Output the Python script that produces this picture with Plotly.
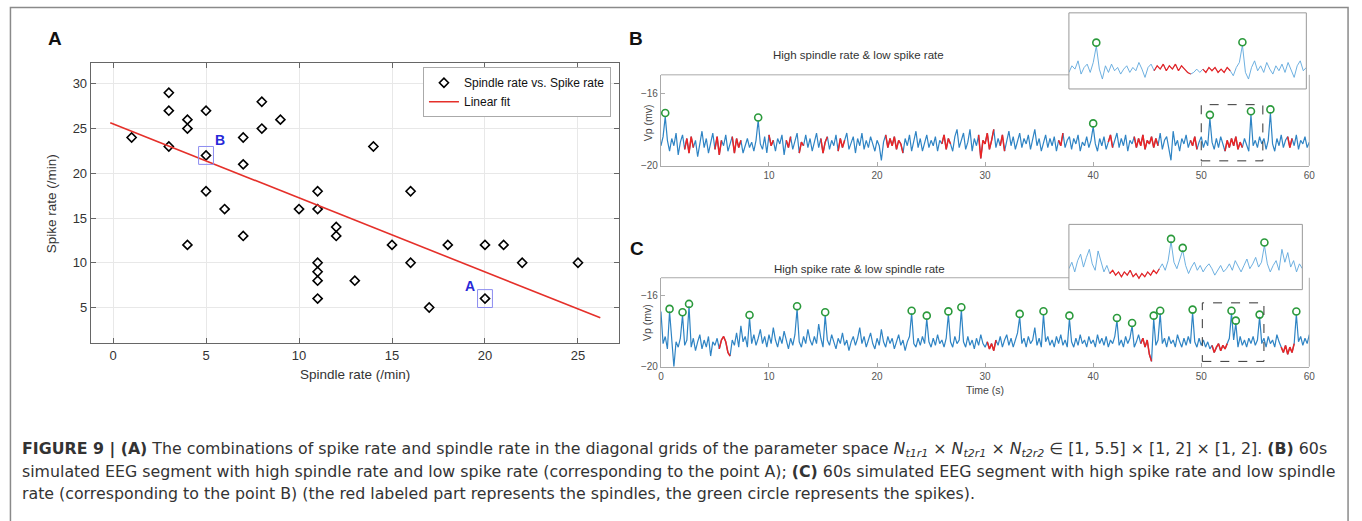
import plotly.graph_objects as go

W, H = 1362, 521
FONT = "Liberation Sans, Arial, sans-serif"
CAPFONT = "DejaVu Sans, Liberation Sans, sans-serif"

# ---------------- Panel A data ----------------
spindle_rate = [1, 3, 3, 3, 4, 4, 4, 5, 5, 5, 6, 7, 7, 7, 8, 8, 9, 10, 11, 11, 11, 11, 11, 11,
                12, 12, 13, 14, 15, 16, 16, 17, 18, 20, 20, 21, 22, 25]
spike_rate = [24, 29, 27, 23, 26, 25, 12, 27, 22, 18, 16, 24, 21, 13, 28, 25, 26, 16, 18, 16, 10, 9, 8, 6,
              14, 13, 8, 23, 12, 18, 10, 5, 12, 12, 6, 12, 10, 10]
fit_x = [-0.15, 26.2]
fit_y = [25.65, 3.85]
point_A = [20, 6]
point_B = [5, 22]
a_xticks = [0, 5, 10, 15, 20, 25]
a_yticks = [5, 10, 15, 20, 25, 30]

# ---------------- Panel B data (60 s, 0.2 s sampling) ----------------
b_t0, b_dt = 0.0, 0.2
b_vp = [
    -18.9, -18.4, -17.3, -18.6, -19.2, -18.5, -18.9, -18.2, -19.4, -18.7,
    -18.3, -19.1, -18.5, -19.3, -18.4, -19.0, -18.6, -19.5, -18.8, -18.1,
    -19.0, -18.5, -19.3, -18.7, -18.2, -19.1, -18.4, -19.4, -18.6, -18.9,
    -18.3, -19.2, -18.8, -18.4, -19.3, -18.5, -19.0, -18.6, -19.3, -18.9,
    -18.5, -19.0, -18.7, -19.2, -18.6, -17.5, -18.8, -19.1, -18.4, -19.3,
    -18.3, -18.9, -18.6, -19.2, -18.5, -18.8, -18.3, -19.4, -18.6, -19.0,
    -18.4, -19.1, -18.6, -18.2, -19.3, -18.7, -18.9, -18.3, -19.0, -18.5,
    -19.2, -18.6, -18.2, -19.0, -18.5, -19.3, -18.7, -18.4, -19.1, -18.6,
    -18.9, -18.3, -19.2, -18.5, -19.0, -18.6, -18.2, -19.1, -18.7, -18.4,
    -19.3, -18.5, -18.9, -18.2, -19.1, -18.6, -19.0, -18.4, -18.8, -19.2,
    -18.6, -18.9, -19.7, -18.7, -18.3, -19.0, -18.5, -18.9, -18.4, -19.1,
    -18.6, -18.8, -19.3, -18.5, -18.9, -18.3, -19.2, -18.6, -18.1, -19.0,
    -18.5, -19.2, -18.7, -18.3, -19.0, -18.6, -18.9, -18.4, -19.2, -18.6,
    -18.8, -18.3, -19.1, -18.5, -18.8, -19.2, -18.4, -18.0, -19.0, -18.6,
    -18.2, -19.1, -18.7, -18.0, -19.2, -18.5, -18.9, -18.3, -19.6, -18.6,
    -18.8, -18.2, -19.1, -18.6, -18.0, -19.0, -18.5, -18.9, -18.3, -19.2,
    -18.6, -18.1, -18.9, -18.4, -19.1, -18.7, -18.2, -19.0, -18.5, -18.8,
    -18.3, -19.1, -18.6, -18.0, -18.9, -18.5, -19.2, -18.7, -18.3, -19.0,
    -18.5, -18.9, -18.4, -19.2, -18.6, -18.9, -18.2, -19.0, -18.6, -18.4,
    -19.1, -18.5, -18.8, -18.3, -19.2, -18.7, -18.9, -18.4, -19.0, -18.6,
    -17.85, -18.8, -19.2, -18.5, -18.9, -18.4, -19.1, -18.7, -18.3, -19.0,
    -18.6, -18.2, -19.0, -18.5, -18.9, -18.3, -19.2, -18.6, -18.8, -18.4,
    -19.0, -18.5, -18.9, -18.3, -19.1, -18.6, -18.8, -18.4, -19.0, -18.5,
    -18.9, -18.2, -19.1, -18.6, -18.4, -19.0, -19.7, -18.1, -18.9, -18.6,
    -19.2, -18.5, -18.8, -18.3, -19.0, -18.6, -18.9, -18.4, -19.1, -18.7,
    -18.4, -19.0, -18.6, -18.9, -17.4, -18.7, -19.1, -18.5, -19.0, -18.4,
    -18.8, -19.2, -18.6, -19.0, -18.5, -18.9, -18.4, -19.1, -18.7, -19.0,
    -18.5, -18.8, -19.2, -17.2, -18.9, -18.6, -19.0, -18.4, -18.8, -18.5,
    -19.1, -18.6, -17.1, -18.8, -19.2, -18.5, -18.9, -18.3, -19.0, -18.6,
    -18.4, -19.0, -18.5, -18.9, -18.3, -19.1, -18.6, -18.8, -18.4, -19.0, -18.7,
]
b_spindles = [[2.2, 3.1], [5.0, 5.75], [6.5, 7.4], [10.0, 10.5], [11.6, 12.0], [12.7, 13.3],
              [14.8, 15.4], [16.4, 17.1], [20.8, 22.4], [25.9, 26.8], [29.3, 30.9], [31.4, 31.8],
              [36.7, 37.2], [41.4, 41.9], [43.8, 46.1], [49.0, 49.6], [52.2, 53.9], [57.9, 58.5]]
b_spike_t = [0.4, 9.0, 40.0, 50.8, 54.6, 56.4]
b_spike_v = [-17.1, -17.35, -17.67, -17.2, -17.0, -16.9]
b_zoom = [50.0, 55.7, -19.73, -16.64]

# inset of B (50 s .. 56.24 s, 0.08 s sampling)
bi_t0, bi_dt = 50.0, 0.08
bi_vp = [
    -18.9, -18.5, -18.7, -18.2, -19.0, -18.6, -18.4, -18.9, -18.3, -17.3,
    -18.7, -19.3, -18.5, -18.9, -18.4, -18.8, -18.6, -19.0, -18.7, -18.5,
    -18.9, -18.6, -18.8, -18.3, -18.7, -19.2, -18.6, -18.4, -18.8, -18.5,
    -18.7, -18.4, -18.8, -18.5, -18.7, -18.4, -18.8, -18.5, -18.7, -18.9,
    -19.0, -18.9, -18.7, -18.9, -18.7, -18.9, -18.6, -18.8, -18.6, -18.9,
    -18.7, -18.9, -18.6, -18.8, -19.1, -18.6, -18.3, -17.25, -18.9, -19.3,
    -18.6, -18.2, -18.8, -18.5, -18.9, -18.3, -18.7, -19.0, -18.5, -18.8,
    -18.4, -18.9, -18.3, -18.7, -19.2, -18.5, -18.2, -18.8, -18.6,
]
bi_spindles = [[52.2, 53.2], [53.5, 54.3]]
bi_spike_t = [50.72, 54.56]
bi_spike_v = [-17.1, -17.08]

# ---------------- Panel C data ----------------
c_t0, c_dt = 0.0, 0.2
c_vp = [
    -16.9, -18.7, -18.3, -19.0, -16.9, -18.5, -20.0, -18.6, -18.9, -18.4,
    -17.1, -18.8, -18.5, -16.6, -18.9, -18.4, -19.1, -18.6, -18.2, -19.0,
    -18.5, -18.9, -18.3, -19.4, -18.6, -18.8, -18.4, -19.0, -18.5, -18.3,
    -18.6, -19.2, -19.4, -18.5, -18.8, -18.1, -18.9, -17.7, -18.6, -18.3,
    -18.9, -17.25, -18.7, -18.2, -18.8, -18.4, -17.9, -18.7, -18.3, -18.9,
    -18.2, -18.7, -17.8, -18.5, -18.9, -18.3, -18.7, -18.0, -18.6, -19.0,
    -18.4, -18.8, -18.2, -16.75, -18.6, -18.9, -18.3, -18.7, -17.9, -18.5,
    -18.8, -18.3, -18.7, -17.6, -18.4, -18.9, -17.1, -18.5, -18.8, -18.2,
    -18.6, -19.0, -18.4, -18.7, -18.1, -18.8, -18.5, -19.1, -18.6, -18.3,
    -18.8, -18.4, -17.8, -18.7, -18.3, -18.9, -18.5, -18.1, -18.7, -19.0,
    -18.4, -18.8, -17.9, -18.6, -18.9, -18.3, -18.7, -18.4, -19.0, -18.6,
    -18.2, -18.8, -18.5, -19.1, -18.6, -18.3, -17.0, -18.7, -18.9, -18.4,
    -18.8, -18.3, -18.7, -17.3, -18.6, -18.9, -18.4, -18.8, -18.2, -18.7,
    -18.5, -18.9, -18.4, -17.05, -18.6, -18.9, -18.3, -18.7, -18.5, -16.8,
    -18.6, -18.9, -18.3, -18.8, -18.5, -19.0, -18.4, -18.8, -18.2, -18.7,
    -18.9, -18.6, -19.0, -18.7, -19.1, -18.5, -18.8, -18.3, -18.9, -18.5,
    -18.2, -18.8, -18.4, -18.9, -18.5, -18.1, -17.2, -18.7, -18.4, -18.9,
    -18.3, -18.7, -18.5, -17.8, -18.8, -18.4, -18.9, -17.05, -18.6, -18.3,
    -18.8, -18.5, -18.9, -18.3, -18.7, -18.2, -18.8, -18.5, -18.9, -17.3,
    -18.6, -18.9, -18.4, -18.8, -18.2, -18.7, -18.5, -18.9, -18.3, -18.7,
    -18.5, -18.9, -18.2, -18.7, -18.4, -18.8, -18.3, -18.9, -18.5, -18.7,
    -18.3, -17.4, -18.8, -18.5, -18.9, -18.3, -18.7, -18.4, -17.7, -18.9,
    -18.6, -18.2, -18.7, -18.4, -18.9, -18.5, -19.3, -19.7, -17.3, -18.8,
    -18.5, -17.0, -18.7, -18.4, -18.9, -18.3, -18.7, -18.5, -18.9, -18.2,
    -18.6, -18.9, -18.4, -18.8, -18.3, -18.7, -16.95, -18.6, -18.9, -18.4,
    -18.8, -18.5, -18.9, -18.6, -19.0, -18.8, -19.2, -18.9, -18.7, -19.1,
    -18.8, -19.0, -18.7, -18.4, -17.0, -18.5, -17.55, -18.9, -18.3, -18.8,
    -18.5, -18.9, -18.4, -18.7, -18.3, -18.8, -18.5, -17.2, -18.7, -18.4,
    -18.9, -18.3, -18.7, -18.5, -18.9, -18.2, -18.6, -18.9, -19.2, -18.8,
    -19.3, -18.9, -19.2, -18.7, -17.05, -18.6, -18.3, -18.8, -18.4, -18.7, -18.2,
]
c_spindles = [[5.4, 6.4], [30.2, 31.0], [44.4, 45.4], [51.0, 52.4], [57.4, 58.6]]
c_spike_t = [0.8, 2.0, 2.6, 8.2, 12.6, 15.2, 23.2, 24.6, 26.6, 27.8, 33.2, 35.4, 37.8,
             42.2, 43.6, 45.6, 46.2, 49.2, 52.8, 53.2, 55.4, 58.8]
c_spike_v = [-16.75, -16.94, -16.47, -17.09, -16.6, -16.94, -16.85, -17.13, -16.89, -16.66,
             -17.03, -16.88, -17.13, -17.26, -17.54, -17.13, -16.85, -16.79, -16.85, -17.41,
             -17.07, -16.9]
c_zoom = [50.1, 55.8, -19.7, -16.41]

# inset of C (50 s .. 56.4 s, 0.08 s sampling)
ci_t0, ci_dt = 50.0, 0.08
ci_vp = [
    -18.7, -18.3, -18.9, -18.2, -17.8, -18.6, -18.0, -17.5, -18.4, -18.8,
    -17.6, -18.3, -18.9, -18.5, -19.0, -18.8, -19.1, -18.9, -19.2, -18.9,
    -19.1, -18.8, -19.2, -19.0, -19.3, -19.0, -19.2, -18.9, -19.1, -18.8,
    -19.0, -18.7, -18.4, -18.8, -18.2, -17.0, -18.3, -18.7, -18.1, -17.55,
    -18.5, -19.0, -18.6, -18.3, -18.8, -18.5, -18.9, -18.6, -18.4, -18.7,
    -19.1, -18.8, -18.5, -18.9, -18.7, -18.4, -18.8, -18.2, -18.6, -18.9,
    -18.5, -18.1, -18.7, -18.4, -18.0, -18.6, -18.3, -17.25, -18.4, -18.9,
    -18.5, -18.2, -18.8, -17.5, -18.3, -17.7, -18.6, -18.2, -18.9, -18.4, -18.7,
]
ci_spindles = [[51.1, 52.5]]
ci_spike_t = [52.8, 53.12, 55.36]
ci_spike_v = [-16.85, -17.41, -17.07]

# ---------------- helpers ----------------
def px(x):
    return x / W


def py(y):
    return 1 - y / H


def times(t0, dt, n):
    return [round(t0 + i * dt, 3) for i in range(n)]


def spindle_only(t, v, ints):
    return [val if any(lo - 1e-9 <= tt <= hi + 1e-9 for lo, hi in ints) else None
            for tt, val in zip(t, v)]


BLUE = "#2f84c4"
BLUE_LIGHT = "#5ea7dc"
RED = "#ec2424"
GREEN = "#2b9a3c"

fig = go.Figure()

# Panel A
fig.add_trace(go.Scatter(x=spindle_rate, y=spike_rate, mode="markers", name="Spindle rate vs. Spike rate",
                         marker=dict(symbol="diamond-open", size=7, color="black", line=dict(width=1.6)),
                         xaxis="x", yaxis="y"))
fig.add_trace(go.Scatter(x=fit_x, y=fit_y, mode="lines", name="Linear fit",
                         line=dict(color="#e5302a", width=1.6), xaxis="x", yaxis="y"))


def add_eeg(t, v, ints, st, sv, xa, ya, blue, lw):
    fig.add_trace(go.Scatter(x=t, y=v, mode="lines", line=dict(color=blue, width=lw),
                             showlegend=False, xaxis=xa, yaxis=ya))
    fig.add_trace(go.Scatter(x=t, y=spindle_only(t, v, ints), mode="lines",
                             line=dict(color=RED, width=lw + 0.3), connectgaps=False,
                             showlegend=False, xaxis=xa, yaxis=ya))
    fig.add_trace(go.Scatter(x=st, y=sv, mode="markers",
                             marker=dict(symbol="circle-open", size=7, color=GREEN, line=dict(width=1.6)),
                             showlegend=False, xaxis=xa, yaxis=ya))


add_eeg(times(b_t0, b_dt, len(b_vp)), b_vp, b_spindles, b_spike_t, b_spike_v, "x2", "y2", BLUE, 1.2)
add_eeg(times(c_t0, c_dt, len(c_vp)), c_vp, c_spindles, c_spike_t, c_spike_v, "x3", "y3", BLUE, 1.2)
add_eeg(times(bi_t0, bi_dt, len(bi_vp)), bi_vp, bi_spindles, bi_spike_t, bi_spike_v, "x4", "y4", BLUE_LIGHT, 0.9)
add_eeg(times(ci_t0, ci_dt, len(ci_vp)), ci_vp, ci_spindles, ci_spike_t, ci_spike_v, "x5", "y5", BLUE_LIGHT, 0.9)

axA = dict(showline=True, linecolor="#666", linewidth=1, mirror="ticks", ticks="inside", ticklen=5,
           tickcolor="#666", showgrid=True, gridcolor="#e8e8e8", zeroline=False,
           tickfont=dict(family=FONT, size=13, color="#333"))
axE = dict(showline=True, linecolor="#aaa", linewidth=1, mirror=False, ticks="inside", ticklen=4,
           tickcolor="#aaa", showgrid=False, zeroline=False,
           tickfont=dict(family=FONT, size=10, color="#555"))
hidden = dict(visible=False, showgrid=False, zeroline=False)

layout = dict(
    width=W, height=H, autosize=False, margin=dict(l=0, r=0, t=0, b=0),
    paper_bgcolor="white", plot_bgcolor="white",
    xaxis=dict(axA, domain=[px(88.3), px(620)], range=[-1.2, 27.2], tickvals=a_xticks, anchor="y"),
    yaxis=dict(axA, domain=[py(347.3), py(64)], range=[1, 32.3], tickvals=a_yticks, anchor="x"),
    xaxis2=dict(axE, domain=[px(662.3), px(1315)], range=[0, 60], tickvals=[10, 20, 30, 40, 50, 60], anchor="y2"),
    yaxis2=dict(axE, domain=[py(167.7), py(75.7)], range=[-20, -15], tickvals=[-20, -16], anchor="x2"),
    xaxis3=dict(axE, domain=[px(662.3), px(1315)], range=[0, 60], tickvals=[0, 10, 20, 30, 40, 50, 60], anchor="y3"),
    yaxis3=dict(axE, domain=[py(371), py(281)], range=[-20, -15], tickvals=[-20, -16], anchor="x3"),
    xaxis4=dict(hidden, domain=[px(1073), px(1312)], range=[50, 56.24], anchor="y4"),
    yaxis4=dict(hidden, domain=[py(90), py(13)], range=[-19.9, -15.3], anchor="x4"),
    xaxis5=dict(hidden, domain=[px(1073), px(1308)], range=[50, 56.4], anchor="y5"),
    yaxis5=dict(hidden, domain=[py(293), py(227)], range=[-20.0, -15.95], anchor="x5"),
    legend=dict(x=px(612), y=py(68), xanchor="right", yanchor="top", bgcolor="white",
                bordercolor="#aaa", borderwidth=1, font=dict(family=FONT, size=12, color="#111"),
                itemwidth=30, tracegroupgap=0),
    showlegend=True,
)
fig.update_layout(**layout)

shapes = []
# outer frame
shapes.append(dict(type="rect", xref="paper", yref="paper", x0=px(7.5), x1=px(1354), y0=-0.1, y1=py(7.5),
                   line=dict(color="#8a8a8a", width=1.5)))
# A highlighted points
for p in (point_A, point_B):
    shapes.append(dict(type="rect", xref="x", yref="y", x0=p[0] - 0.4, x1=p[0] + 0.4, y0=p[1] - 1.0, y1=p[1] + 1.0,
                       line=dict(color="#8c8cf0", width=1)))
# B / C main borders (top & right) and inset frames
for top, bot, itop, ibot, iright in ((75.7, 167.7, 13, 90, 1312), (281, 371, 227, 293, 1308)):
    shapes.append(dict(type="line", xref="paper", yref="paper", x0=px(662.3), x1=px(1073), y0=py(top), y1=py(top),
                       line=dict(color="#aaa", width=1)))
    shapes.append(dict(type="line", xref="paper", yref="paper", x0=px(1315), x1=px(1315), y0=py(top), y1=py(bot),
                       line=dict(color="#aaa", width=1)))
    shapes.append(dict(type="rect", xref="paper", yref="paper", x0=px(1073), x1=px(iright), y0=py(ibot), y1=py(itop),
                       line=dict(color="#999", width=1), fillcolor="rgba(0,0,0,0)"))
# dashed zoom windows
for z, xa, ya in ((b_zoom, "x2", "y2"), (c_zoom, "x3", "y3")):
    shapes.append(dict(type="rect", xref=xa, yref=ya, x0=z[0], x1=z[1], y0=z[2], y1=z[3],
                       line=dict(color="#333", width=1, dash="dash")))
fig.update_layout(shapes=shapes)

ann = []


def note(text, x, y, size, color="#222", bold=False, angle=0, xanchor="center", fam=FONT):
    t = f"<b>{text}</b>" if bold else text
    ann.append(dict(text=t, x=px(x), y=py(y), xref="paper", yref="paper", showarrow=False,
                    xanchor=xanchor, yanchor="middle", textangle=angle,
                    font=dict(family=fam, size=size, color=color)))


note("A", 52, 39, 19, "#111", bold=True)
note("B", 637, 39, 19, "#111", bold=True)
note("C", 638, 251, 19, "#111", bold=True)
note("Spike rate (/min)", 49, 206, 13.5, "#333", angle=-90)
note("Spindle rate (/min)", 354, 379, 13.5, "#333")
note("High spindle rate &amp; low spike rate", 861, 56, 11.5, "#333")
note("High spike rate &amp; low spindle rate", 862, 272.5, 11.5, "#333")
note("Vp (mv)", 649, 124, 10.5, "#444", angle=-90)
note("Vp (mv)", 649, 326, 10.5, "#444", angle=-90)
note("Time (s)", 989, 395, 10.5, "#444")

# blue point labels in panel A (data coordinates)
ann.append(dict(text="<b>B</b>", x=point_B[0] + 0.75, y=point_B[1] + 1.75, xref="x", yref="y", showarrow=False,
                font=dict(family=FONT, size=14, color="#2828d8")))
ann.append(dict(text="<b>A</b>", x=point_A[0] - 0.8, y=point_A[1] + 1.35, xref="x", yref="y", showarrow=False,
                font=dict(family=FONT, size=14, color="#2828d8")))

cap1 = ("<b>FIGURE 9 | (A)</b> The combinations of spike rate and spindle rate in the diagonal grids of the parameter space "
        "<i>N</i><sub><i>t1r1</i></sub> × <i>N</i><sub><i>t2r1</i></sub> × <i>N</i><sub><i>t2r2</i></sub> "
        "∈ [1, 5.5] × [1, 2] × [1, 2]. <b>(B)</b> 60s")
cap2 = ("simulated EEG segment with high spindle rate and low spike rate (corresponding to the point A); "
        "<b>(C)</b> 60s simulated EEG segment with high spike rate and low spindle")
cap3 = ("rate (corresponding to the point B) (the red labeled part represents the spindles, "
        "the green circle represents the spikes).")
for txt, yy in ((cap1, 455), (cap2, 477), (cap3, 499)):
    note(txt, 17, yy, 15.8, "#333", xanchor="left", fam=CAPFONT)

fig.update_layout(annotations=ann)
fig.write_html("out.html")
